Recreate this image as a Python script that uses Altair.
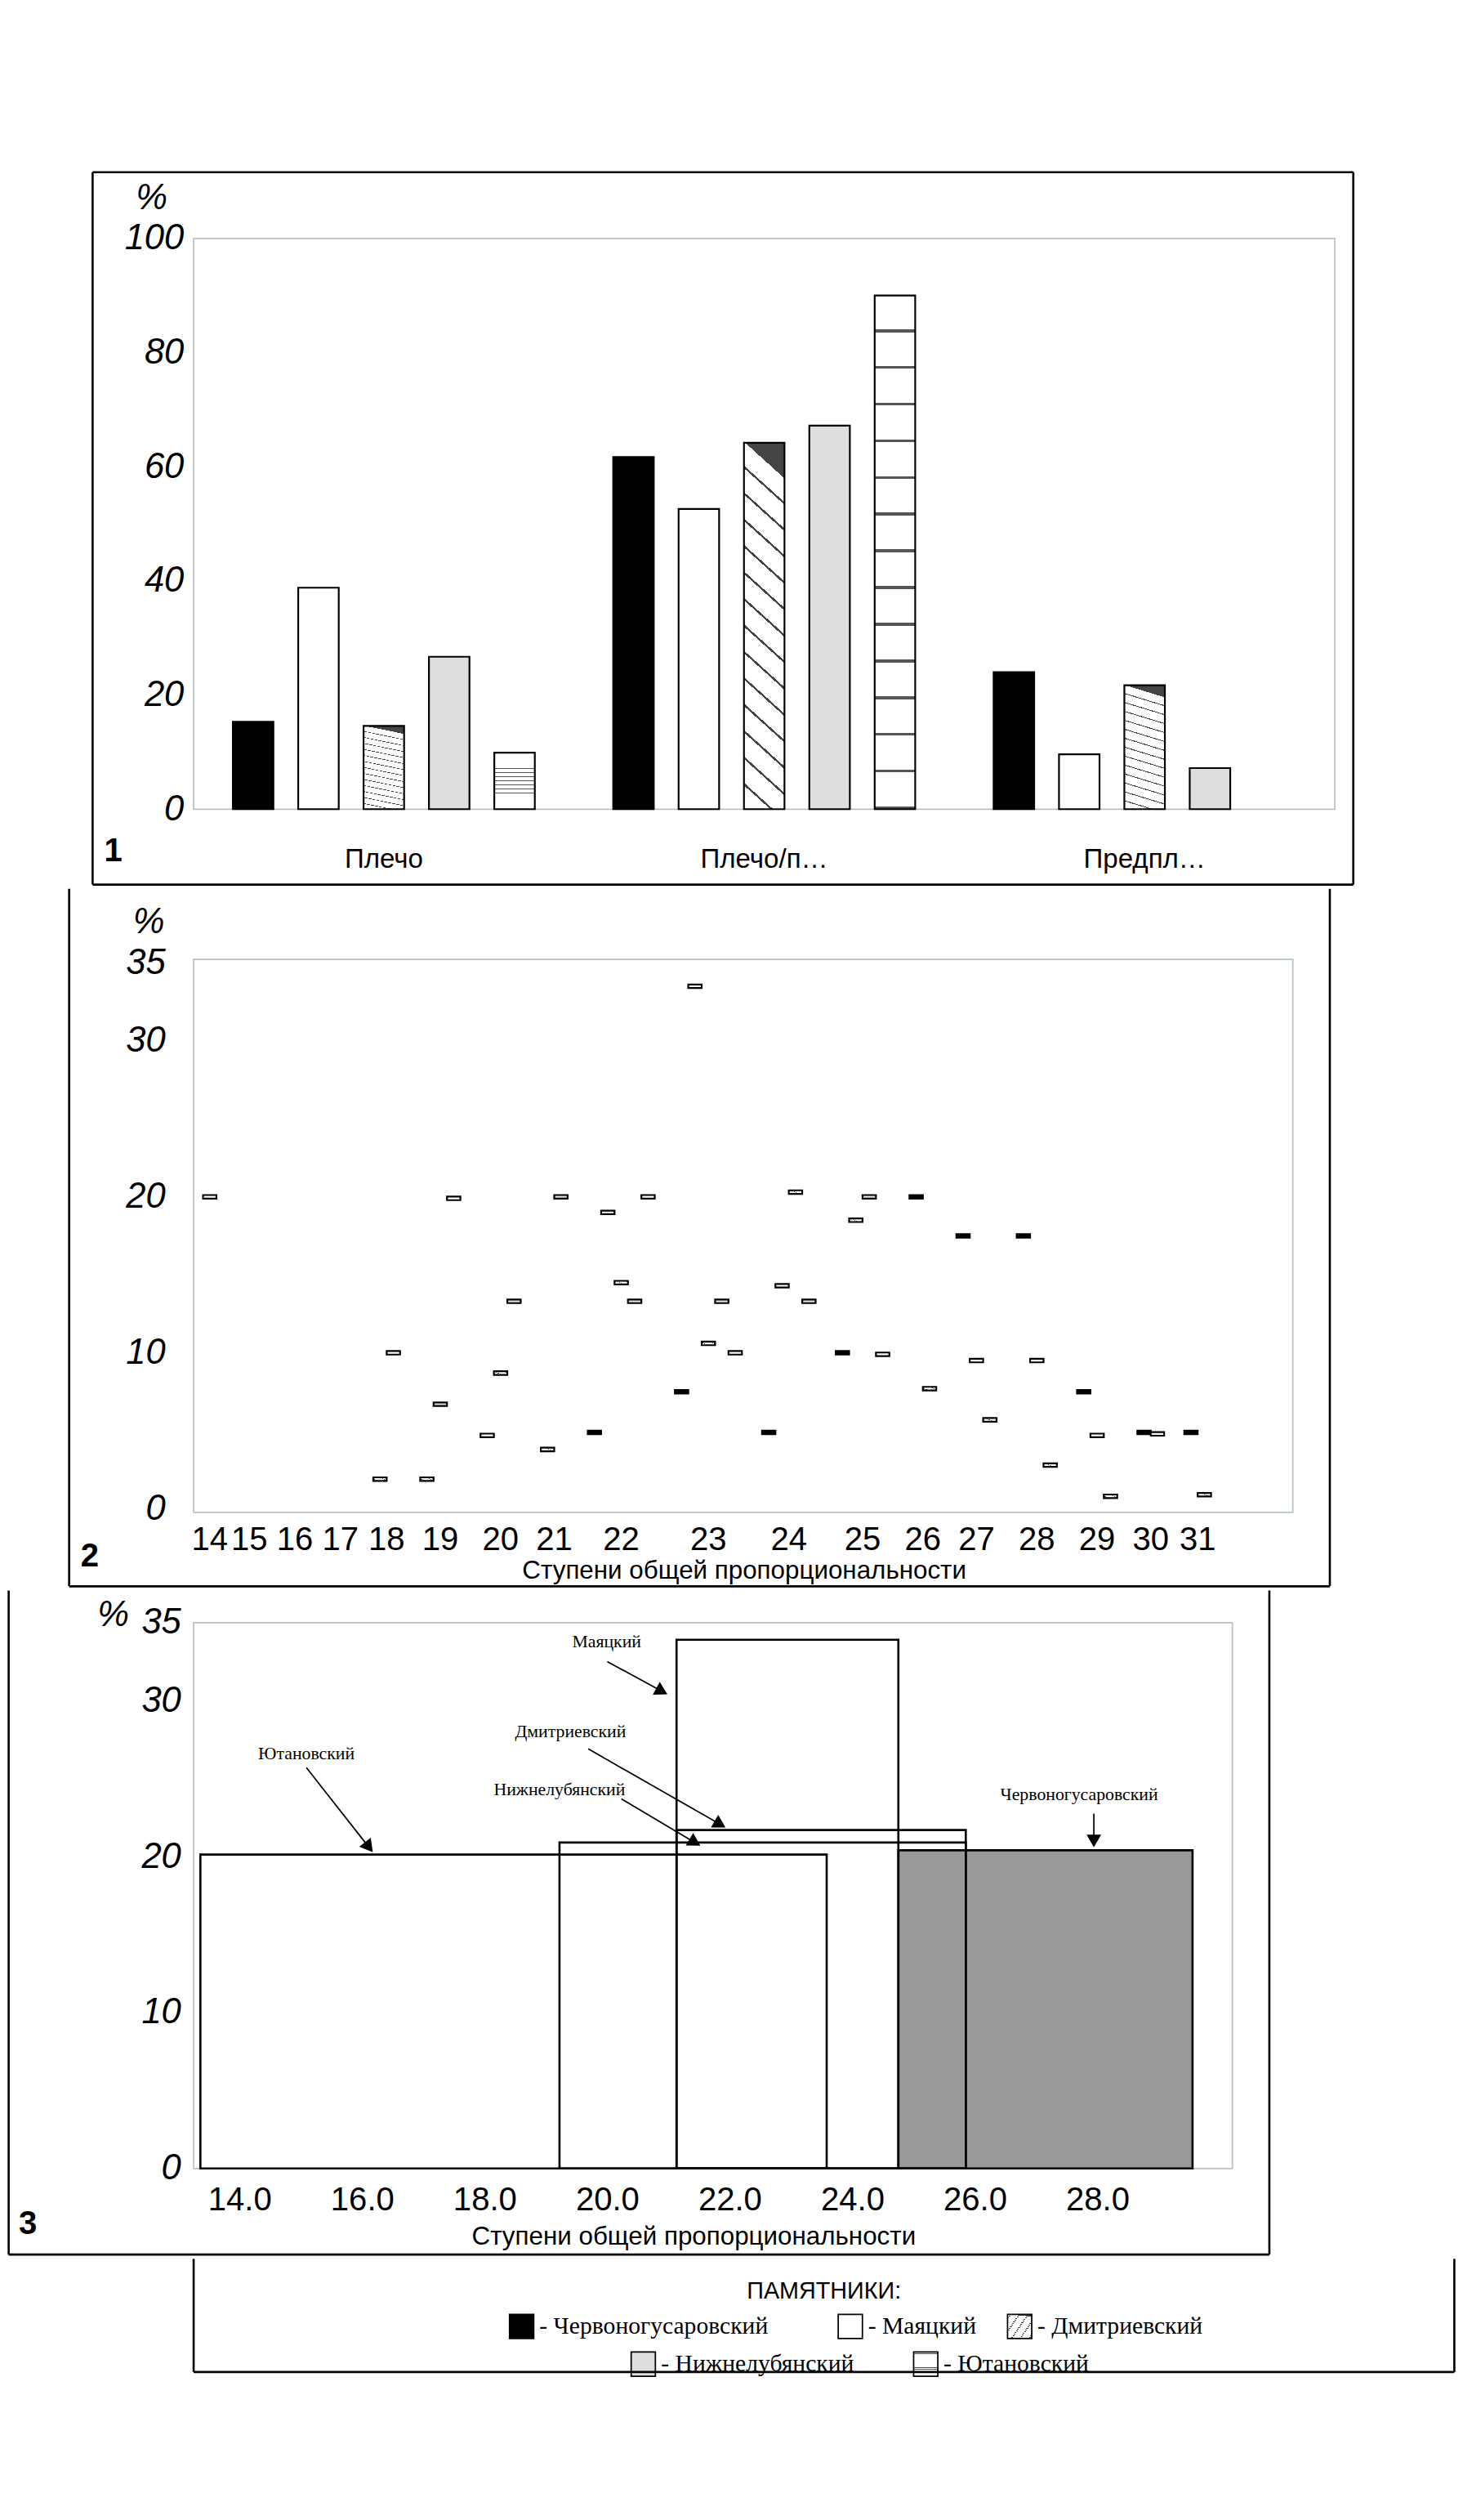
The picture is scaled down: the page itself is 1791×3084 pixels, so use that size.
import math
import altair as alt
import pandas as pd

FONT = "Liberation Sans"
NARROW = "Liberation Sans Narrow"

series = ["Червоногусаровский", "Маяцкий", "Дмитриевский", "Нижнелубянский", "Ютановский"]

# panel 1
cats1 = ["Плечо", "Плечо/предплечье", "Предплечье"]
chervon1 = [15.3, 61.7, 24.0]
mayak1 = [38.8, 52.6, 9.6]
dmitr1 = [14.6, 64.2, 21.7]
nizhn1 = [26.7, 67.2, 7.2]
yutan1 = [9.9, 90.0, 0]

# panel 2
steps2 = [14, 15, 16, 17, 18, 19, 20, 21, 22, 23, 24, 25, 26, 27, 28, 29, 30, 31]
chervon2 = [0, 0, 0, 0, 0, 0, 0, 0, 4.9, 7.5, 4.9, 10.0, 20.0, 17.5, 17.5, 7.5, 4.9, 4.9]
mayak2 = [0, 0, 0, 0, 0, 0, 4.7, 0, 19.0, 33.5, 14.3, 0, 0, 9.5, 9.5, 4.7, 4.8, 0]
dmitr2 = [0, 0, 0, 0, 1.9, 1.9, 8.7, 3.8, 14.5, 10.6, 20.3, 18.5, 7.7, 5.7, 2.8, 0.8, 0, 0.9]
nizhn2 = [0, 0, 0, 0, 0, 6.7, 13.3, 20.0, 13.3, 13.3, 13.3, 20.0, 0, 0, 0, 0, 0, 0]
yutan2 = [20.0, 0, 0, 0, 10.0, 19.9, 0, 0, 20.0, 10.0, 0, 9.9, 0, 0, 0, 0, 0, 0]

# panel 3: ranges of steps and maximum share
steps3 = list(range(14, 30))
range_start = [24.75, 21.13, 21.13, 19.22, 13.36]
range_end = [29.55, 24.75, 25.85, 25.85, 23.58]
range_top = [20.4, 33.9, 21.7, 20.9, 20.13]
note_x = [27.7, 19.99, 19.4, 19.22, 15.09]
note_y = [24.0, 33.8, 28.0, 24.3, 26.6]
arrow_x1 = [27.94, 20.0, 19.69, 20.23, 15.09]
arrow_y1 = [22.75, 32.5, 26.9, 23.7, 25.7]
arrow_x2 = [27.94, 20.89, 21.84, 21.43, 16.11]
arrow_y2 = [21.0, 30.6, 22.07, 20.9, 20.6]


def stripes(n, x2, y2, x1=0, y1=0, line="black", frac=0.12):
    stops = []
    for i in range(n):
        a = i / n
        b = (i + 1 - frac) / n
        c = (i + 1) / n
        stops += [alt.GradientStop(offset=a, color="white"), alt.GradientStop(offset=b, color="white"),
                  alt.GradientStop(offset=b, color=line), alt.GradientStop(offset=c, color=line)]
    return alt.LinearGradient(gradient="linear", stops=stops, x1=x1, y1=y1, x2=x2, y2=y2)


FILL = {
    "Червоногусаровский": "black",
    "Маяцкий": "white",
    "Дмитриевский": stripes(14, 0.1, 0, y1=1, line="#444", frac=0.1),
    "Нижнелубянский": "#dedede",
    "Ютановский": stripes(14, 0, 1, line="#555", frac=0.08),
}


def frame(top, bottom, left, right, show_top=True):
    # outer border lines drawn in pixel space around the panel
    base = alt.Chart(pd.DataFrame({"k": [0]}))
    top_line = base.mark_rule(color="black", strokeWidth=3, opacity=1 if show_top else 0).encode(
        x=alt.value(left), x2=alt.value(right), y=alt.value(top))
    bot = base.mark_rule(color="black", strokeWidth=3).encode(
        x=alt.value(left), x2=alt.value(right), y=alt.value(bottom))
    lft = base.mark_rule(color="black", strokeWidth=3).encode(
        x=alt.value(left), y=alt.value(top), y2=alt.value(bottom))
    rgt = base.mark_rule(color="black", strokeWidth=3).encode(
        x=alt.value(right), y=alt.value(top), y2=alt.value(bottom))
    return [top_line, bot, lft, rgt]


def label(text, x, y, size=50, italic=False, bold=False, font=FONT):
    return alt.Chart(pd.DataFrame({"t": [text]})).mark_text(
        font=font, fontSize=size, fontStyle="italic" if italic else "normal",
        fontWeight="bold" if bold else "normal", align="center", baseline="middle", color="black"
    ).encode(text="t:N", x=alt.value(x), y=alt.value(y))


yaxis = dict(labelFontSize=50, labelFontStyle="italic", labelFont=FONT, title=None,
             domain=False, ticks=False, grid=False, labelColor="black")

# ---------- panel 1
W1, H1, L1 = 1604, 802, 152
rows = []
for s, vals in zip(series, [chervon1, mayak1, dmitr1, nizhn1, yutan1]):
    for c, v in zip(cats1, vals):
        if v > 0:
            rows.append({"cat": c, "series": s, "value": v})
df1 = pd.DataFrame(rows)

layers1 = []
for s in series:
    layers1.append(
        alt.Chart(df1).transform_filter(alt.datum.series == s)
        .mark_bar(fill=FILL[s], stroke="black", strokeWidth=2.5)
        .encode(
            x=alt.X("cat:N", sort=cats1, scale=alt.Scale(domain=cats1, paddingInner=0, paddingOuter=0),
                    axis=alt.Axis(labelAngle=0, labelFontSize=38, labelFont=FONT, labelPadding=52,
                                  title=None, domain=False, ticks=False, labelColor="black")),
            xOffset=alt.XOffset("series:N", scale=alt.Scale(domain=series, paddingInner=0.38, paddingOuter=0.6)),
            y=alt.Y("value:Q", scale=alt.Scale(domain=[0, 100]),
                    axis=alt.Axis(values=[0, 20, 40, 60, 80, 100], labelPadding=14, **yaxis)),
        )
    )
p1 = alt.layer(
    *layers1,
    label("%", -59, -56, italic=True),
    label("1", -113, 861, size=46, bold=True),
    *frame(-93, 908, -(L1 - 10), 1782 - L1),
).properties(width=W1, height=H1)

# ---------- panel 2
W2, H2, L2 = 1545, 777, 185
GAP, EMPTY, START = 1.5, 3.4, 0.7
bar_rows, step_rows = [], []
pos = START
cols2 = [chervon2, mayak2, dmitr2, nizhn2, yutan2]
for i, st in enumerate(steps2):
    present = [(s, col[i]) for s, col in zip(series, cols2) if col[i] > 0]
    if not present:
        step_rows.append({"step": str(st), "center": pos + EMPTY / 2 - GAP / 2})
        pos += EMPTY
        continue
    start = pos
    for s, v in present:
        bar_rows.append({"series": s, "value": v, "x0": pos, "x1": pos + 1})
        pos += 1
    step_rows.append({"step": str(st), "center": (start + pos) / 2})
    pos += GAP
df2 = pd.DataFrame(bar_rows)
dsteps = pd.DataFrame(step_rows)
xs2 = alt.Scale(domain=[0, 82])

layers2 = []
for s in series:
    layers2.append(
        alt.Chart(df2).transform_filter(alt.datum.series == s)
        .mark_bar(fill=FILL[s], stroke="black", strokeWidth=2.5)
        .encode(
            x=alt.X("x0:Q", scale=xs2, axis=None),
            x2="x1:Q",
            y=alt.Y("value:Q", scale=alt.Scale(domain=[0, 35]),
                    axis=alt.Axis(values=[0, 10, 20, 30, 35], labelPadding=40, **yaxis)),
        )
    )
steps_text = alt.Chart(dsteps).mark_text(font=FONT, fontSize=46, baseline="middle", color="black").encode(
    x=alt.X("center:Q", scale=xs2, axis=None), y=alt.value(816), text="step:N")
p2 = alt.layer(
    *layers2, steps_text,
    label("%", -63, -52, italic=True),
    label("Ступени общей пропорциональности", 774, 859, size=36),
    label("2", -146, 839, size=46, bold=True),
    *frame(-99, 881, -(L2 - 10), 1782 - L2, show_top=False),
).properties(width=W2, height=H2)

# ---------- panel 3
W3, H3, L3 = 1460, 767, 270
xdom3 = [13.25, 30.2]
df3 = pd.DataFrame({"series": series, "start": range_start, "end": range_end, "top": range_top,
                    "zero": [0] * 5})
px_x = W3 / (xdom3[1] - xdom3[0])
px_y = H3 / 35
angles = []
for a, b, c, d in zip(arrow_x1, arrow_y1, arrow_x2, arrow_y2):
    dx = (c - a) * px_x
    dy = (d - b) * px_y
    angles.append(math.degrees(math.atan2(dx, dy)) % 360)
dnotes = pd.DataFrame({"series": series, "nx": note_x, "ny": note_y, "x1": arrow_x1, "y1": arrow_y1,
                       "x2": arrow_x2, "y2": arrow_y2, "angle": angles})

xs3 = alt.Scale(domain=xdom3)
ys3 = alt.Scale(domain=[0, 35])
rect_base = alt.Chart(df3).encode(
    x=alt.X("start:Q", scale=xs3,
            axis=alt.Axis(values=steps3, labelFontSize=46, labelFont=FONT, labelPadding=22, title=None,
                          domain=False, ticks=False, grid=False, labelColor="black", labelFlush=False)),
    x2="end:Q",
    y=alt.Y("top:Q", scale=ys3, axis=alt.Axis(values=[0, 10, 20, 30, 35], labelPadding=18, **yaxis)),
    y2="zero:Q",
)
gray = rect_base.transform_filter(alt.datum.series == series[0]).mark_rect(
    fill="#999999", stroke="black", strokeWidth=3)
outlines = rect_base.transform_filter(alt.datum.series != series[0]).mark_rect(
    fill="white", fillOpacity=0, stroke="black", strokeWidth=3)
nb = alt.Chart(dnotes)
notes = nb.mark_text(font=NARROW, fontSize=25, color="black").encode(
    x=alt.X("nx:Q", scale=xs3), y=alt.Y("ny:Q", scale=ys3), text="series:N")
lines = nb.mark_rule(color="black", strokeWidth=2).encode(
    x=alt.X("x1:Q", scale=xs3), y=alt.Y("y1:Q", scale=ys3), x2="x2:Q", y2="y2:Q")
heads = nb.mark_point(shape="triangle-up", filled=True, color="black", size=420, opacity=1).encode(
    x=alt.X("x2:Q", scale=xs3), y=alt.Y("y2:Q", scale=ys3), angle=alt.Angle("angle:Q", scale=None))
p3 = alt.layer(
    gray, outlines, lines, heads, notes,
    label("%", -113, -10, italic=True),
    label("Ступени общей пропорциональности", 703, 863, size=36),
    label("3", -233, 845, size=46, bold=True),
    *frame(-45, 888, -(L3 - 10), 1782 - L3, show_top=False),
).properties(width=W3, height=H3)

# ---------- legend
sw_x = [444, 906, 1144, 615, 1012]
sw_y = [95, 95, 95, 148, 148]
dleg = pd.DataFrame({"series": series, "sx": sw_x, "sy": sw_y,
                     "txt": ["- " + s for s in series]})
lx = alt.Scale(domain=[0, 1772])
ly = alt.Scale(domain=[159, 0])
leg_layers = [label("ПАМЯТНИКИ:", 886, 46, size=33)]
for s in series:
    sub = alt.Chart(dleg).transform_filter(alt.datum.series == s).transform_calculate(
        sx2="datum.sx + 34", sy0="datum.sy - 17", sy1="datum.sy + 17", tx="datum.sx + 42")
    leg_layers.append(sub.mark_rect(fill=FILL[s], stroke="black", strokeWidth=2).encode(
        x=alt.X("sx:Q", scale=lx, axis=None), x2="sx2:Q",
        y=alt.Y("sy0:Q", scale=ly, axis=None), y2="sy1:Q"))
    leg_layers.append(sub.mark_text(font=NARROW, fontSize=34, align="left", baseline="middle", color="black").encode(
        x=alt.X("tx:Q", scale=lx, axis=None), y=alt.Y("sy:Q", scale=ly, axis=None), text="txt:N"))
legend = alt.layer(*leg_layers, *frame(0, 159, 0, 1772, show_top=False)).properties(
    width=1772, height=159, view=alt.ViewBackground(stroke="transparent"))

chart = alt.vconcat(p1, p2, p3, legend, spacing=0).properties(padding=0).configure_view(
    stroke="#b8c4c4", strokeWidth=2)
chart.save("out.html", embed_options={"renderer": "svg", "actions": False})
